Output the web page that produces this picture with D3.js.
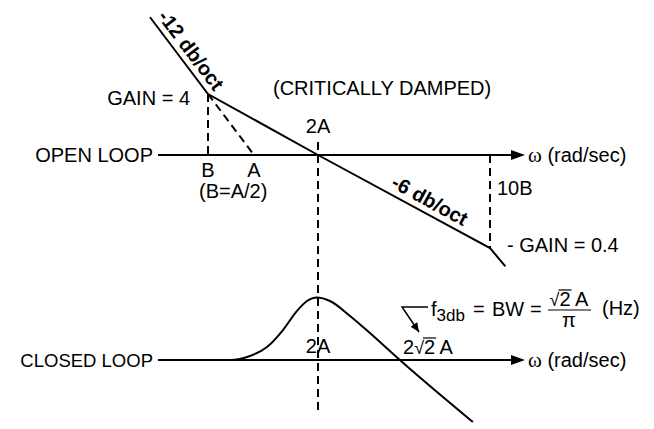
<!DOCTYPE html>
<html>
<head>
<meta charset="utf-8">
<script src="https://cdn.jsdelivr.net/npm/d3@7"></script>
<style>
  body { margin: 0; background: #fff; }
  svg text { font-family: "Liberation Sans", Arial, sans-serif; font-size: 20px; fill: #000; }
</style>
</head>
<body>
<svg width="654" height="429"></svg>
<script>
// frequency axis is in octaves above B (B = 0, A = 1, 2A = 2, 10B = log2(10))
var freqLabels = ["B", "A", "2A", "10B"];
var freqOct = [0, 1, 2, Math.log2(10)];

// open loop asymptotes (gain in dB)
var openOct = [-1.26, 0, 2, Math.log2(10), 3.44];
var openDb  = [27.1, 12, 0, -7.93, -9.5];

// closed loop response (dB)
var closedOct = [0.2, 0.478, 0.913, 1.203, 1.453, 1.672, 1.828, 1.984, 2.092, 2.246, 2.399, 2.629, 3.19];
var closedDb  = [0, 0, 0.39, 1.26, 2.9, 4.75, 5.71, 6.05, 5.71, 4.26, 2.61, 0, -6.0];

var svg = d3.select("svg");

// sketch is not to scale, so the scales are piecewise
var x = d3.scaleLinear().domain(freqOct).range([208, 254, 318, 490]);
var yOpen = d3.scaleLinear().domain([12, 0, -7.93]).range([94, 155, 248]);
var yClosed = d3.scaleLinear().domain([0, 6]).range([360, 298]);

var axisLeft = 158, axisRight = 525;

function axisArrow(y) {
  svg.append("line")
    .attr("x1", axisLeft).attr("x2", axisRight - 12)
    .attr("y1", y).attr("y2", y)
    .attr("stroke", "#000").attr("stroke-width", 2);
  svg.append("path")
    .attr("d", "M" + axisRight + "," + y + "L" + (axisRight - 14) + "," + (y - 5) + "L" + (axisRight - 14) + "," + (y + 5) + "Z")
    .attr("fill", "#000");
  svg.append("text").attr("x", axisRight + 3).attr("y", y + 7)
    .html('<tspan style="font-family:\'Liberation Serif\',serif;font-size:21px">ω</tspan> (rad/sec)');
}

function dashed(x1, y1, x2, y2) {
  svg.append("line")
    .attr("x1", x1).attr("y1", y1).attr("x2", x2).attr("y2", y2)
    .attr("stroke", "#000").attr("stroke-width", 2)
    .attr("stroke-dasharray", "8,5");
}

// ---- open loop ----
axisArrow(yOpen(0));
svg.append("text").attr("x", 153).attr("y", yOpen(0) + 7).attr("text-anchor", "end").text("OPEN LOOP");

dashed(x(0), yOpen(12), x(0), yOpen(0));
dashed(x(0), yOpen(12), x(1), yOpen(0));
dashed(x(freqOct[3]), yOpen(0), x(freqOct[3]), yOpen(-7.93));
dashed(x(2), 142, x(2), 415);

var openPts = openOct.map(function(d, i) { return [x(d), yOpen(openDb[i])]; });
svg.append("path")
  .attr("d", d3.line()(openPts))
  .attr("fill", "none").attr("stroke", "#000").attr("stroke-width", 2);

svg.append("text").attr("x", x(0) - 18).attr("y", 105).attr("text-anchor", "end").text("GAIN = 4");
svg.append("text").attr("x", 273).attr("y", 95).text("(CRITICALLY DAMPED)");
svg.append("text").attr("x", x(2)).attr("y", 133).attr("text-anchor", "middle").text(freqLabels[2]);
svg.append("text").attr("x", x(0)).attr("y", 177).attr("text-anchor", "middle").text(freqLabels[0]);
svg.append("text").attr("x", x(1)).attr("y", 177).attr("text-anchor", "middle").text(freqLabels[1]);
svg.append("text").attr("x", 199).attr("y", 198).text("(B=A/2)");
svg.append("text").attr("x", x(freqOct[3]) + 7).attr("y", 195).text(freqLabels[3]);
svg.append("text").attr("x", x(freqOct[3]) + 17).attr("y", 252).text("- GAIN = 0.4");

// slope labels, rotated along their asymptote
function slopeLabel(p0, p1, frac, off, txt) {
  var dx = p1[0] - p0[0], dy = p1[1] - p0[1];
  var len = Math.sqrt(dx * dx + dy * dy);
  var ang = Math.atan2(dy, dx) * 180 / Math.PI;
  var nx = dy / len, ny = -dx / len;
  var cx = p0[0] + dx * frac + nx * off, cy = p0[1] + dy * frac + ny * off;
  svg.append("text")
    .attr("transform", "translate(" + cx + "," + cy + ") rotate(" + ang + ")")
    .attr("text-anchor", "middle")
    .style("font-weight", "bold")
    .text(txt);
}
slopeLabel(openPts[0], openPts[1], 0.53, 6, "-12 db/oct");
slopeLabel(openPts[1], openPts[3], 0.765, 6, "-6 db/oct");

// ---- closed loop ----
axisArrow(yClosed(0));
svg.append("text").attr("x", 153).attr("y", yClosed(0) + 7).attr("text-anchor", "end")
  .style("font-size", "18.5px")
  .text("CLOSED LOOP");

var closedPts = closedOct.map(function(d, i) { return [x(d), yClosed(closedDb[i])]; });
svg.append("path")
  .attr("d", d3.line().curve(d3.curveMonotoneX)(closedPts))
  .attr("fill", "none").attr("stroke", "#000").attr("stroke-width", 2);

svg.append("text").attr("x", x(2)).attr("y", 353).attr("text-anchor", "middle").text("2A");

// text with a square root sign over one part
function radical(tx, ty, pre, under, post, anchorMid) {
  var g = svg.append("g");
  var t = g.append("text").attr("x", tx).attr("y", ty);
  t.append("tspan").text(pre);
  t.append("tspan").text("√").style("font-size", "18px");
  t.append("tspan").text(under);
  t.append("tspan").text(post);
  var n = t.node();
  var total = n.getComputedTextLength();
  if (anchorMid) t.attr("x", tx - total / 2);
  var uStart = n.getStartPositionOfChar(pre.length + 1).x;
  var uEnd = n.getEndPositionOfChar(pre.length + under.length).x;
  g.append("line")
    .attr("x1", uStart - 1).attr("x2", uEnd + 1)
    .attr("y1", ty - 16).attr("y2", ty - 16)
    .attr("stroke", "#000").attr("stroke-width", 1.2);
  return total;
}
radical(403, 354, "2", "2", " A", false);

// f3db pointer
var corner = [402, 307], tip = [419, 332];
svg.append("path")
  .attr("d", "M428,307L" + corner[0] + "," + corner[1] + "L" + tip[0] + "," + tip[1])
  .attr("fill", "none").attr("stroke", "#000").attr("stroke-width", 1.5);
(function() {
  var dx = tip[0] - corner[0], dy = tip[1] - corner[1];
  var l = Math.sqrt(dx * dx + dy * dy), ux = dx / l, uy = dy / l;
  var bx = tip[0] - ux * 9, by = tip[1] - uy * 9;
  svg.append("path")
    .attr("d", "M" + tip[0] + "," + tip[1] + "L" + (bx - uy * 4) + "," + (by + ux * 4) + "L" + (bx + uy * 4) + "," + (by - ux * 4) + "Z")
    .attr("fill", "#000");
})();

// equation: f3db = BW = sqrt(2) A / pi (Hz)
var eqY = 316;
var eq = svg.append("text").attr("x", 431).attr("y", eqY);
eq.append("tspan").text("f");
eq.append("tspan").attr("dy", 5).style("font-size", "17px").text("3db");
svg.append("text").attr("x", 473).attr("y", eqY).text("=");
svg.append("text").attr("x", 492).attr("y", eqY).text("BW");
svg.append("text").attr("x", 530).attr("y", eqY).text("=");
radical(569, eqY - 10, "", "2", " A", true);
svg.append("line")
  .attr("x1", 548).attr("x2", 591)
  .attr("y1", eqY - 6).attr("y2", eqY - 6)
  .attr("stroke", "#000").attr("stroke-width", 1.2);
svg.append("text").attr("x", 569).attr("y", eqY + 11).attr("text-anchor", "middle").text("π");
svg.append("text").attr("x", 602).attr("y", eqY - 1).text("(Hz)");
</script>
</body>
</html>
